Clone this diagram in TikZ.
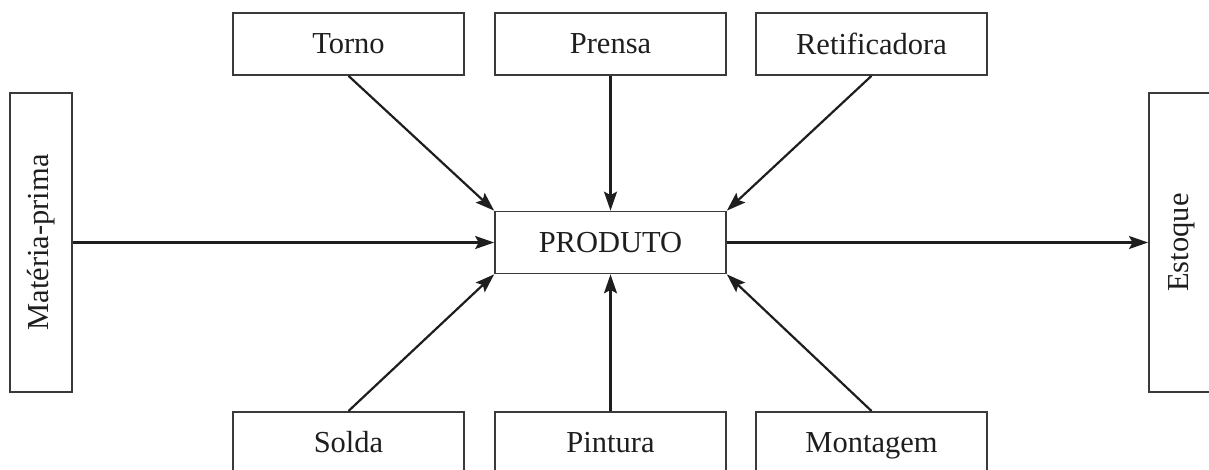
\documentclass[tikz,border=0pt]{standalone}
\usepackage{fontspec}
\setmainfont{Liberation Serif}
\usetikzlibrary{arrows.meta}
\definecolor{ink}{HTML}{1E1E1E}
\definecolor{boxline}{HTML}{3A3A3A}
\begin{document}
\begin{tikzpicture}[x=1pt,y=-1pt,
  every node/.style={text=ink,font=\fontsize{30.5}{36}\selectfont},
  box/.style={draw=boxline,line width=1.7pt,minimum width=231pt,minimum height=62pt,inner sep=0pt},
  sidebox/.style={draw=boxline,line width=1.7pt,minimum width=299pt,rotate=90,inner sep=0pt},
  openbox/.style={draw=boxline,line width=1.7pt,minimum width=231pt,inner sep=0pt,anchor=north,text height=41pt,text depth=70pt},
  flow/.style={draw=ink,line width=2.2pt,-{Stealth[length=19pt,width=13pt,inset=3.5pt]}}]
\useasboundingbox (0,0) rectangle (1209,469);
\clip (0,0) rectangle (1209,469);
\node[box] (P) at (610.5,242.5) {PRODUTO};
\node[box] (T) at (348.5,44) {Torno};
\node[box] (R) at (610.5,44) {Prensa};
\node[box] (F) at (871.5,44) {Retificadora};
\node[openbox] (S) at (348.5,411) {Solda};
\node[openbox] (N) at (610.5,411) {Pintura};
\node[openbox] (G) at (871.5,411) {Montagem};
\node[sidebox,minimum height=62pt] (M) at (41,242.5) {Matéria-prima};
\node[sidebox,anchor=north,text height=40pt,text depth=60pt] (E) at (1148,242.5) {Estoque};
\draw[flow] (T.south) -- (P.north west);
\draw[flow] (R.south) -- (P.north);
\draw[flow] (F.south) -- (P.north east);
\draw[flow] (S.north) -- (P.south west);
\draw[flow] (N.north) -- (P.south);
\draw[flow] (G.north) -- (P.south east);
\draw[flow] (M.south) -- (P.west);
\draw[flow] (P.east) -- (E.north);
\end{tikzpicture}
\end{document}
